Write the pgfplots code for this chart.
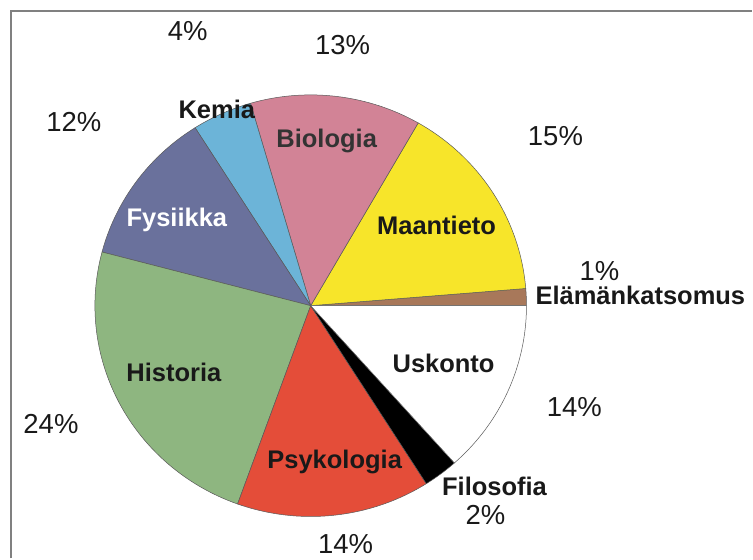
\documentclass[border=0pt]{standalone}
\usepackage{fontspec}
\setmainfont{Liberation Sans}
\usepackage{pgfplots}
\usepackage{pgfplotstable}
\pgfplotsset{compat=1.18}

\definecolor{cElam}{RGB}{168,120,90}
\definecolor{cMaan}{RGB}{247,229,42}
\definecolor{cBio}{RGB}{210,131,150}
\definecolor{cKem}{RGB}{108,180,216}
\definecolor{cFys}{RGB}{106,113,156}
\definecolor{cHis}{RGB}{142,182,128}
\definecolor{cPsy}{RGB}{228,77,57}
\definecolor{cFil}{RGB}{0,0,0}
\definecolor{cUsk}{RGB}{255,255,255}
\definecolor{txt}{RGB}{25,25,25}

% shares in percent, counter-clockwise from 3 o'clock
\pgfplotstableread{
pct   col
1.3   cElam
15.4  cMaan
12.8  cBio
4.5   cKem
11.9  cFys
23.6  cHis
14.5  cPsy
2.6   cFil
13.4  cUsk
}\piedata

\newcommand\pctfont{\fontsize{27.5bp}{30bp}\selectfont}
\newcommand\catfont{\fontsize{25.5bp}{28bp}\selectfont\bfseries}

\begin{document}
\begin{tikzpicture}
\begin{axis}[
    scale only axis,
    width=753bp, height=559bp,
    xmin=0, xmax=753, ymin=0, ymax=559,
    hide axis,
    clip=false,
]
\path (axis cs:0,0) rectangle (axis cs:753,559);
% frame (top and left only)
\addplot[draw=black!50, line width=1.5bp] coordinates {(11,0) (11,548) (753,548)};

\def\cx{311}\def\cy{253}\def\rx{216}\def\ry{211}
\def\angA{0}
\pgfplotsforeachungrouped \i in {0,...,8}{%
    \pgfplotstablegetelem{\i}{pct}\of\piedata \let\wpct=\pgfplotsretval
    \pgfplotstablegetelem{\i}{col}\of\piedata \let\wcol=\pgfplotsretval
    \pgfmathsetmacro\angB{\angA+3.6*\wpct}%
    \edef\wedgecmd{\noexpand\addplot[fill=\wcol, draw=black!65, line width=0.5bp,
        domain=\angA:\angB, samples=60, variable=\noexpand\t]
        ({\cx+\rx*cos(\noexpand\t)},{\cy+\ry*sin(\noexpand\t)})
        -- (axis cs:\cx,\cy) -- cycle;}%
    \wedgecmd
    \global\let\angA=\angB
}

% percentages
\begin{scope}[every node/.style={anchor=base, text=txt, font=\pctfont, inner sep=0pt}]
\node at (axis cs:188,518) {4\%};
\node at (axis cs:343,504) {13\%};
\node at (axis cs:74,427) {12\%};
\node at (axis cs:556,413) {15\%};
\node at (axis cs:600,278) {1\%};
\node at (axis cs:575,142) {14\%};
\node at (axis cs:51,125) {24\%};
\node at (axis cs:486,34) {2\%};
\node at (axis cs:346,5) {14\%};
\end{scope}

% category names
\begin{scope}[every node/.style={anchor=base, text=txt, font=\catfont, inner sep=0pt}]
\node at (axis cs:217,440) {Kemia};
\node[text=black!80] at (axis cs:327,411) {Biologia};
\node[text=white] at (axis cs:177,332) {Fysiikka};
\node at (axis cs:437,324) {Maantieto};
\node at (axis cs:641,254) {Elämänkatsomus};
\node at (axis cs:444,186) {Uskonto};
\node at (axis cs:174,177) {Historia};
\node at (axis cs:335,90) {Psykologia};
\node at (axis cs:495,63) {Filosofia};
\end{scope}
\end{axis}
\end{tikzpicture}
\end{document}
